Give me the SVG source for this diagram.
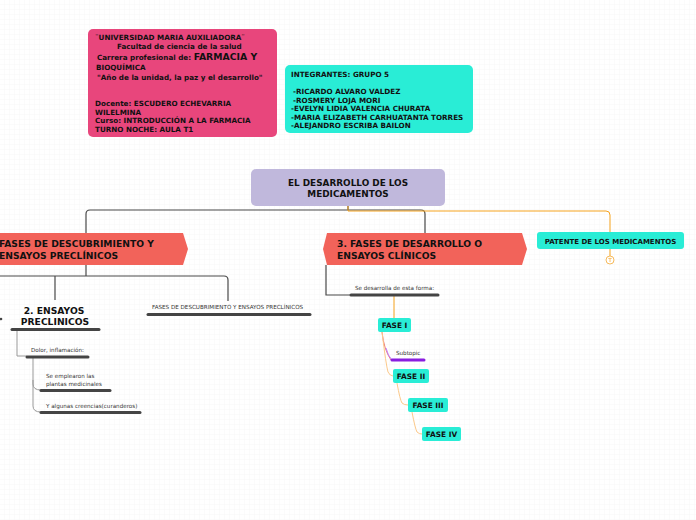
<svg xmlns="http://www.w3.org/2000/svg" width="696" height="520" viewBox="0 0 696 520">
<defs>
<pattern id="grid" width="5" height="5" patternUnits="userSpaceOnUse">
<path d="M5 0V5H0" fill="none" stroke="#f1f1f1" stroke-width="0.6"/>
</pattern>
<style>
text{font-family:"DejaVu Sans","Verdana",sans-serif;fill:#111;}
.b{font-weight:bold;}
.info{font-size:7.2px;font-weight:bold;}
.hdr{font-size:9.2px;font-weight:bold;}
.sm{font-size:5.6px;fill:#333;}
.dark{fill:none;stroke:#4a4a4a;stroke-width:1.2;}
.gray{fill:none;stroke:#999;stroke-width:1;}
.or{fill:none;stroke:#f5a31f;stroke-width:1;}
.lor{fill:none;stroke:#fcc98a;stroke-width:1;}
.bar{stroke:#444;stroke-width:3;stroke-linecap:round;}
.cy{fill:#29edd6;}
.fase{font-size:7.4px;font-weight:bold;text-anchor:middle;}
</style>
</defs>
<rect width="696" height="520" fill="#fff"/>
<rect width="696" height="520" fill="url(#grid)"/>

<g id="connectors">
<path class="dark" d="M348 206V210H90Q86 210 86 214V233"/>
<path class="dark" d="M348 210H421Q425 210 425 214V233" stroke="#555"/>
<path class="or" d="M348 206V211H606Q610 211 610 215V232"/>
<path class="or" d="M610 249V256"/>
<path class="dark" d="M86 265V276"/>
<path class="dark" d="M0 276H224Q228 276 228 280V301"/>
<path class="dark" d="M55 276V300"/>
<path class="gray" d="M17 330V356H27"/>
<path class="gray" d="M33 357V384Q33 390 41 390"/>
<path class="gray" d="M33 380V406Q33 412 41 412"/>
<path class="dark" d="M326 265V295H350" stroke="#666"/>
<path class="or" d="M394 295V318"/>
<path fill="none" stroke="#e77" stroke-width="1" d="M382 332Q384 350 391 360"/>
<path fill="none" stroke="#c080ff" stroke-width="1" d="M386 348Q388 356 392 360"/>
<path class="lor" d="M382 332Q386 365 388 372Q390 376 393 376"/>
<path class="lor" d="M397 383Q400 400 402 403Q404 405 408 405"/>
<path class="lor" d="M412 412Q415 428 417 432Q419 434 422 434"/>
</g>

<g id="info-universidad">
<rect x="88" y="29" width="189" height="108" rx="5" fill="#e8467c"/>
<text class="info" x="95" y="40">¨UNIVERSIDAD MARIA AUXILIADORA¨</text>
<text class="info" x="117" y="49">Facultad de ciencia de la salud</text>
<text class="info" x="97" y="60">Carrera profesional de: <tspan font-size="9.3px">FARMACIA Y</tspan></text>
<text class="info" x="96" y="70" font-size="9.3px">BIOQUÍMICA</text>
<text class="info" x="97" y="80">"Año de la unidad, la paz y el desarrollo"</text>
<text class="info" x="95" y="106">Docente: ESCUDERO ECHEVARRIA</text>
<text class="info" x="95" y="114.5">WILELMINA</text>
<text class="info" x="95" y="123">Curso: INTRODUCCIÓN A LA FARMACIA</text>
<text class="info" x="95" y="131.5">TURNO NOCHE: AULA T1</text>
</g>

<g id="info-integrantes">
<rect x="285" y="65" width="188" height="68" rx="5" class="cy"/>
<text class="info" x="291" y="77">INTEGRANTES: GRUPO 5</text>
<text class="info" x="293" y="94">-RICARDO ALVARO VALDEZ</text>
<text class="info" x="293" y="102.5">-ROSMERY LOJA MORI</text>
<text class="info" x="291" y="111">-EVELYN LIDIA VALENCIA CHURATA</text>
<text class="info" x="291" y="119.5">-MARIA ELIZABETH CARHUATANTA TORRES</text>
<text class="info" x="291" y="128">-ALEJANDRO ESCRIBA BAILON</text>
</g>

<g id="central">
<rect x="251" y="169" width="194" height="37" rx="5" fill="#c0b8dc"/>
<text class="b" x="348" y="186" font-size="8.9px" text-anchor="middle">EL DESARROLLO DE LOS</text>
<text class="b" x="348" y="197" font-size="8.9px" text-anchor="middle">MEDICAMENTOS</text>
</g>

<g id="fase1">
<polygon points="-10,233 183,233 188,249 183,265 -10,265" fill="#f2635a"/>
<text class="hdr" x="-1" y="247">FASES DE DESCUBRIMIENTO Y</text>
<text class="hdr" x="-1" y="258.5">ENSAYOS PRECLÍNICOS</text>
</g>

<g id="fase3">
<polygon points="327,233 522,233 527,249 522,265 327,265 323,249" fill="#f2635a"/>
<text class="hdr" x="337" y="247">3. FASES DE DESARROLLO O</text>
<text class="hdr" x="337" y="258.5">ENSAYOS CLÍNICOS</text>
</g>

<g id="patente">
<rect x="537" y="232" width="147" height="17" rx="3" class="cy"/>
<text class="b" x="610.5" y="243.5" font-size="7px" text-anchor="middle">PATENTE DE LOS MEDICAMENTOS</text>
<circle cx="610" cy="260" r="4" fill="#fff" stroke="#f5b24a" stroke-width="0.9"/>
<path d="M608.3 258.4H611.7M610 258.4V262" stroke="#f5b24a" stroke-width="0.8" fill="none"/>
</g>

<g id="ensayos-preclinicos">
<circle cx="1" cy="319" r="1.3" fill="#444"/>
<text class="hdr" x="54" y="314" text-anchor="middle">2. ENSAYOS</text>
<text class="hdr" x="55" y="325" text-anchor="middle">PRECLINICOS</text>
<line class="bar" x1="12" y1="329.5" x2="99" y2="329.5"/>
</g>

<g id="fases-descubrimiento-label">
<text class="sm" x="152" y="309">FASES DE DESCUBRIMIENTO Y ENSAYOS PRECLÍNICOS</text>
<line class="bar" x1="148" y1="314.5" x2="310" y2="314.5"/>
</g>

<g id="dolor">
<text class="sm" x="31" y="352">Dolor, inflamación:</text>
<line class="bar" x1="27" y1="357" x2="88" y2="357"/>
</g>

<g id="plantas">
<text class="sm" x="46" y="378">Se emplearon las</text>
<text class="sm" x="46" y="386">plantas medicinales</text>
<line class="bar" x1="41" y1="390.5" x2="110" y2="390.5"/>
</g>

<g id="creencias">
<text class="sm" x="46" y="408">Y algunas creencias(curanderos)</text>
<line class="bar" x1="41" y1="412.5" x2="140" y2="412.5"/>
</g>

<g id="se-desarrolla">
<text class="sm" x="355" y="290">Se desarrolla de esta forma:</text>
<line class="bar" x1="351" y1="295" x2="438" y2="295"/>
</g>

<g id="fase-i">
<rect x="378" y="318" width="33" height="14" rx="2" class="cy"/>
<text class="fase" x="394.5" y="328">FASE I</text>
</g>

<g id="subtopic">
<text class="sm" x="396" y="355">Subtopic</text>
<line x1="392" y1="360" x2="424" y2="360" stroke="#8a1ee0" stroke-width="3" stroke-linecap="round"/>
</g>

<g id="fase-ii">
<rect x="393" y="369" width="36" height="14" rx="2" class="cy"/>
<text class="fase" x="411" y="379">FASE II</text>
</g>

<g id="fase-iii">
<rect x="408" y="398" width="40" height="14" rx="2" class="cy"/>
<text class="fase" x="428" y="408">FASE III</text>
</g>

<g id="fase-iv">
<rect x="422" y="427" width="39" height="14" rx="2" class="cy"/>
<text class="fase" x="441.5" y="437">FASE IV</text>
</g>
</svg>
